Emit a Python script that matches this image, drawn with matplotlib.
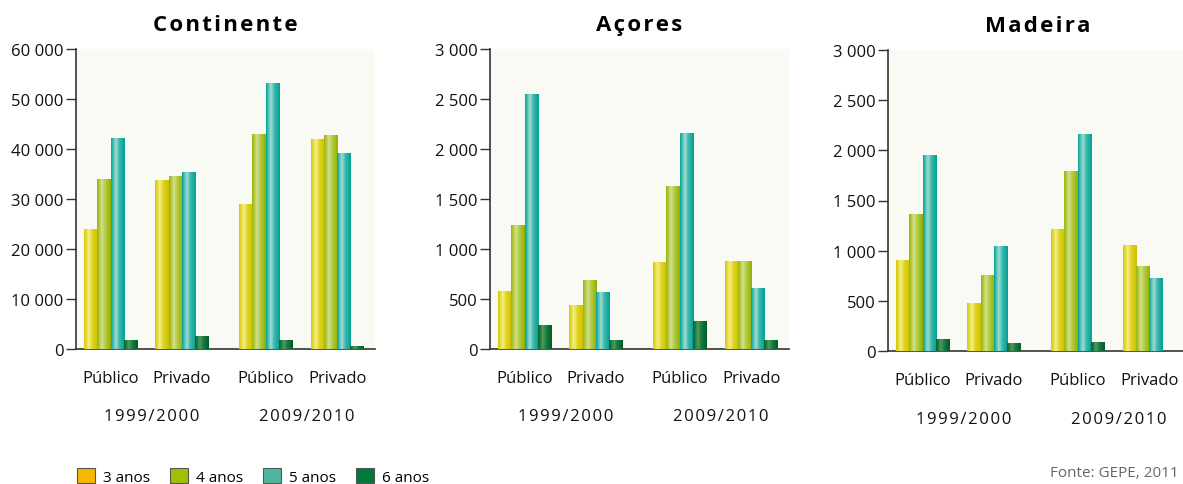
import numpy as np
import matplotlib
matplotlib.use("Agg")
import matplotlib.pyplot as plt
from matplotlib.patches import Patch
from matplotlib.colors import LinearSegmentedColormap
from matplotlib.ticker import FuncFormatter

# ---------------- data ----------------
categories = ['Público', 'Privado', 'Público', 'Privado']
years = ['1999/2000', '2009/2010']
series = ['3 anos', '4 anos', '5 anos', '6 anos']
regions = ['Continente', 'Açores', 'Madeira']

continente_3 = [24000, 33800, 29000, 42000]
continente_4 = [34000, 34600, 43000, 42800]
continente_5 = [42200, 35400, 53200, 39200]
continente_6 = [1800, 2600, 1800, 600]

acores_3 = [572, 431, 863, 873]
acores_4 = [1234, 682, 1625, 873]
acores_5 = [2548, 562, 2157, 602]
acores_6 = [231, 90, 271, 90]

madeira_3 = [900, 475, 1210, 1050]
madeira_4 = [1360, 750, 1790, 845]
madeira_5 = [1950, 1045, 2160, 725]
madeira_6 = [110, 70, 80, 0]

source_text = 'Fonte: GEPE, 2011'

# ---------------- style ----------------
FONT = 'Open Sans'
plt.rcParams['font.family'] = [FONT, 'DejaVu Sans']


def spaced(s):
    return '\u200a'.join(s)


legend_colors = ['#f5b800', '#a2c000', '#4db8a2', '#007a3a']
grad_stops = [
    ['#d6c800', '#f4ee88', '#e0d420', '#cfc000'],
    ['#98b400', '#d2e090', '#b4cc40', '#92ae00'],
    ['#00a596', '#a2dcd4', '#3cb8ac', '#00a093'],
    ['#00602c', '#4c9c5c', '#1a7a40', '#005c28'],
]
cmaps = [LinearSegmentedColormap.from_list(f'g{i}', list(zip([0, 0.35, 0.6, 1.0], s)))
         for i, s in enumerate(grad_stops)]
grad = np.linspace(0, 1, 64).reshape(1, -1)

group_pos = np.array([0.0, 1.0, 2.17, 3.17])
bar_w = 0.186
xlim = (-0.483, 3.70)
bg = '#fafaf4'

fig = plt.figure(figsize=(11.83, 4.85), dpi=100)

data = [
    ([continente_3, continente_4, continente_5, continente_6], 60000, 10000),
    ([acores_3, acores_4, acores_5, acores_6], 3000, 500),
    ([madeira_3, madeira_4, madeira_5, madeira_6], 3000, 500),
]
lefts = [76, 490, 888]
tops = [50, 50, 51]
bottoms = [350, 350, 352]
W, H = 1183, 485

fmt = FuncFormatter(lambda v, p: f'{int(v):,}'.replace(',', ' '))

for r, (vals, ymax, step) in enumerate(data):
    l = lefts[r]
    ax = fig.add_axes([l / W, 1 - bottoms[r] / H, 299 / W, (bottoms[r] - tops[r]) / H])
    ax.set_facecolor(bg)
    for s in range(4):
        xs = group_pos + (s - 1.5) * bar_w
        bars = ax.bar(xs, vals[s], width=bar_w, color=legend_colors[s], linewidth=0, zorder=2)
        for b in bars:
            h = b.get_height()
            if h <= 0:
                b.set_visible(False)
                continue
            x0 = b.get_x()
            ax.imshow(grad, cmap=cmaps[s], extent=(x0, x0 + b.get_width(), 0, h),
                      aspect='auto', zorder=3, interpolation='bilinear')
    ax.set_xlim(*xlim)
    ax.set_ylim(0, ymax)
    ax.set_yticks(np.arange(0, ymax + 1, step))
    ax.yaxis.set_major_formatter(fmt)
    ax.set_xticks(group_pos)
    ax.set_xticklabels(categories, fontsize=12, color='#111111')
    ax.tick_params(axis='x', length=0, pad=15)
    ax.tick_params(axis='y', length=7, width=1, color='#333333', labelsize=12,
                   labelcolor='#111111', pad=2)
    for sp in ['top', 'right']:
        ax.spines[sp].set_visible(False)
    for sp in ['left', 'bottom']:
        ax.spines[sp].set_color('#333333')
        ax.spines[sp].set_linewidth(1.2)
    ax.set_title(spaced(regions[r]), fontsize=16, fontweight='bold', pad=14)
    for k, yr in enumerate(years):
        xc = (group_pos[2 * k] + group_pos[2 * k + 1]) / 2 + 0.07
        ax.text(xc, -0.225, spaced(yr), transform=ax.get_xaxis_transform(), ha='center',
                va='center', fontsize=12, color='#111111')

handles = [Patch(facecolor=c, edgecolor='#555555', linewidth=0.8) for c in legend_colors]
fig.legend(handles, series, loc='lower left', bbox_to_anchor=(0.0535, -0.03), ncol=4,
           frameon=False, fontsize=11, handlelength=1.2, handleheight=1.2,
           handletextpad=0.5, columnspacing=1.3)
fig.text(1179 / W, 1 - 474 / H, source_text, fontsize=11, color='#666666',
         ha='right', va='center')

fig.savefig('out.png', dpi=100, facecolor='white')
